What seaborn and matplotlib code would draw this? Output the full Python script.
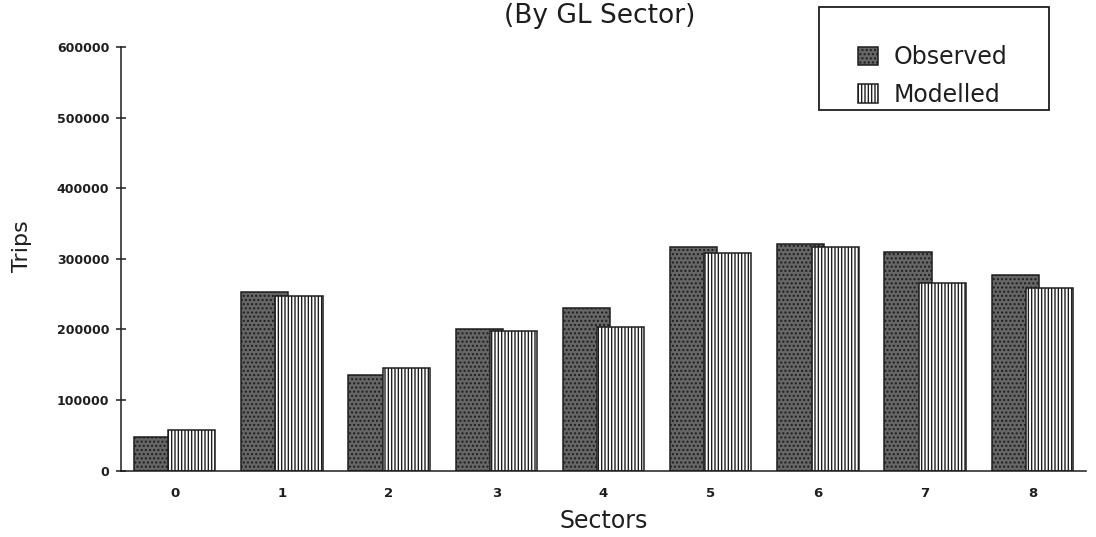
import numpy as np
import pandas as pd
import matplotlib
matplotlib.use("Agg")
import matplotlib.pyplot as plt
import matplotlib.patches as mpatches
import seaborn as sns

sectors = [0, 1, 2, 3, 4, 5, 6, 7, 8]
observed = [47000, 253000, 136000, 201000, 230000, 317000, 321000, 309000, 277000]
modelled = [58000, 247000, 145000, 197000, 204000, 308000, 316000, 266000, 259000]
series = ["Observed", "Modelled"]
y_ticks = [0, 100000, 200000, 300000, 400000, 500000, 600000]

data = pd.DataFrame({
    "Sectors": sectors * 2,
    "Trips": observed + modelled,
    "Series": ["Observed"] * len(sectors) + ["Modelled"] * len(sectors),
})

sns.set_style("white")
plt.rcParams["font.family"] = ["DejaVu Sans"]
plt.rcParams["hatch.linewidth"] = 1.0

ink = "#1e1e1e"
obs_style = dict(facecolor="#666666", edgecolor=ink, hatch="....", linewidth=1.1)
mod_style = dict(facecolor="white", edgecolor=ink, hatch="|||||", linewidth=1.1)

fig = plt.figure(figsize=(10.96, 5.37), dpi=100)
ax = fig.add_axes([121 / 1096, 66.5 / 537, 965 / 1096, 423.5 / 537])

sns.barplot(data=data, x="Sectors", y="Trips", hue="Series", hue_order=series,
            width=0.76, legend=False, ax=ax)

# style the bars, let the modelled bar overlap the observed one a little
for bar in ax.containers[0]:
    bar.set(**obs_style)
    bar.set_width(bar.get_width() + 0.06)
for bar in ax.containers[1]:
    bar.set(**mod_style)
    bar.set_x(bar.get_x() - 0.06)
    bar.set_width(bar.get_width() + 0.06)

ax.set_xlim(-0.5, len(sectors) - 0.5)
ax.set_ylim(0, 600000)
ax.set_yticks(y_ticks)
ax.set_yticklabels([str(v) for v in y_ticks], fontsize=9, fontweight="bold", color=ink)
ax.set_xticks(range(len(sectors)))
ax.set_xticklabels([str(s) for s in sectors], fontsize=9.5, fontweight="bold", color=ink)
ax.set_xticks(np.arange(-0.5, len(sectors)), minor=True)
ax.tick_params(axis="x", which="major", length=0, pad=12)
ax.tick_params(axis="x", which="minor", direction="inout", length=10, width=1.1, color=ink)
ax.tick_params(axis="y", direction="inout", length=7, width=1.1, color=ink, pad=5, left=True)

for side in ["top", "right"]:
    ax.spines[side].set_visible(False)
for side in ["left", "bottom"]:
    ax.spines[side].set_color(ink)
    ax.spines[side].set_linewidth(1.1)

ax.set_xlabel("Sectors", fontsize=17, color=ink, labelpad=6)
ax.set_ylabel("Trips", fontsize=16, color=ink)
ax.yaxis.set_label_coords(-0.092, 0.53)

fig.text(600 / 1096, 1 - 16 / 537, "(By GL Sector)", ha="center", va="center",
         fontsize=19, color=ink)

# legend with a plain square box
handles = [mpatches.Patch(label="Observed", **obs_style),
           mpatches.Patch(label="Modelled", **mod_style)]
fig.legend(handles=handles, loc="center left", bbox_to_anchor=(858 / 1096, 1 - 76 / 537),
           frameon=False, fontsize=17, handlelength=0.85, handleheight=0.85,
           handletextpad=0.65, labelspacing=0.58, borderpad=0, borderaxespad=0,
           labelcolor=ink)
fig.patches.append(mpatches.Rectangle((819 / 1096, 1 - 110 / 537), 230 / 1096, 103 / 537,
                                      transform=fig.transFigure, fill=False,
                                      edgecolor=ink, linewidth=1.3))

fig.savefig("out.png", dpi=100)
